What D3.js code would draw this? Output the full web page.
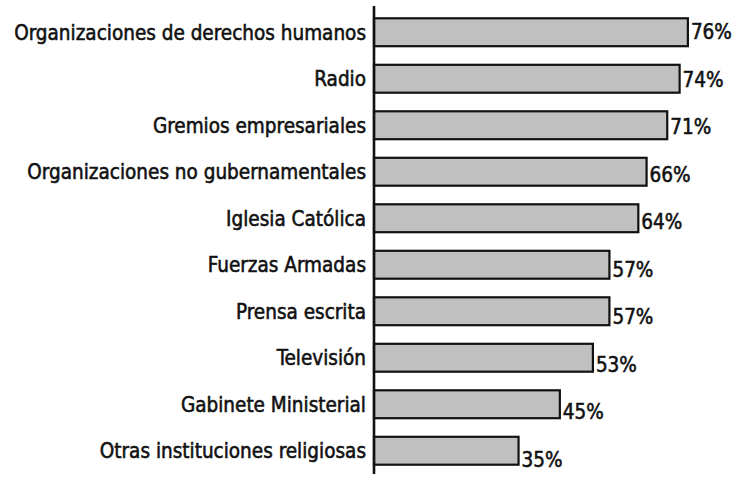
<!DOCTYPE html>
<html>
  <head>
    <meta charset="utf-8">
    <title>Confianza en instituciones</title>
    <script src="https://d3js.org/d3.v7.min.js"></script>
    <style>
      body { margin: 0; background: #fff; }
      text { font-family: "DejaVu Sans Condensed", "Liberation Sans Narrow", sans-serif; fill: #111; stroke: #111; stroke-width: 0.55px; }
    </style>
  </head>
  <body>
    <svg id="chart" width="736" height="479"></svg>
    <script>
      // data
      var categories = [
        "Organizaciones de derechos humanos",
        "Radio",
        "Gremios empresariales",
        "Organizaciones no gubernamentales",
        "Iglesia Católica",
        "Fuerzas Armadas",
        "Prensa escrita",
        "Televisión",
        "Gabinete Ministerial",
        "Otras instituciones religiosas"
      ];
      var values = [76, 74, 71, 66, 64, 57, 57, 53, 45, 35];

      // page elements
      var margin = { top: 6, left: 374, bottom: 5 };
      var chart = d3.select("#chart");
      var x = d3.scaleLinear()
        .domain([0, 100])
        .range([margin.left, margin.left + 413]);
      var y = d3.scaleBand()
        .domain(categories)
        .range([9, 474])
        .paddingInner(0.4)
        .paddingOuter(0.2);
      // value labels drift a little lower than the bars
      var yLabel = d3.scaleBand()
        .domain(categories)
        .range([8, 483])
        .paddingInner(0.4)
        .paddingOuter(0.2);

      var rows = categories.map(function(c, i) { return { name: c, value: values[i] }; });

      chart.append("g")
        .selectAll("rect")
          .data(rows)
        .enter().append("rect")
          .attr("x", x(0))
          .attr("y", function(d) { return y(d.name); })
          .attr("width", function(d) { return x(d.value) - x(0); })
          .attr("height", y.bandwidth())
          .attr("fill", "#c0c0c0")
          .attr("stroke", "#111")
          .attr("stroke-width", 2.2);

      chart.append("g")
        .selectAll("text")
          .data(rows)
        .enter().append("text")
          .attr("x", function(d) { return x(d.value) + 3; })
          .attr("y", function(d) { return yLabel(d.name) + yLabel.bandwidth() / 2; })
          .attr("dy", "0.36em")
          .style("font-size", "20.5px")
          .text(function(d) { return d.value + "%"; });

      var yAxis = d3.axisLeft(y)
        .tickSize(0)
        .tickPadding(8);
      var axisGroup = chart.append("g")
        .attr("transform", "translate(" + margin.left + ", 0)")
        .call(yAxis);
      axisGroup.select(".domain").remove();
      axisGroup.selectAll("text")
        .attr("dy", "0.36em")
        .attr("fill", null)
        .style("font-size", "20.5px")
        .style("font-family", null);
      chart.append("line")
        .attr("x1", margin.left)
        .attr("x2", margin.left)
        .attr("y1", margin.top)
        .attr("y2", 474)
        .attr("stroke", "#111")
        .attr("stroke-width", 2.6);
    </script>
  </body>
</html>
